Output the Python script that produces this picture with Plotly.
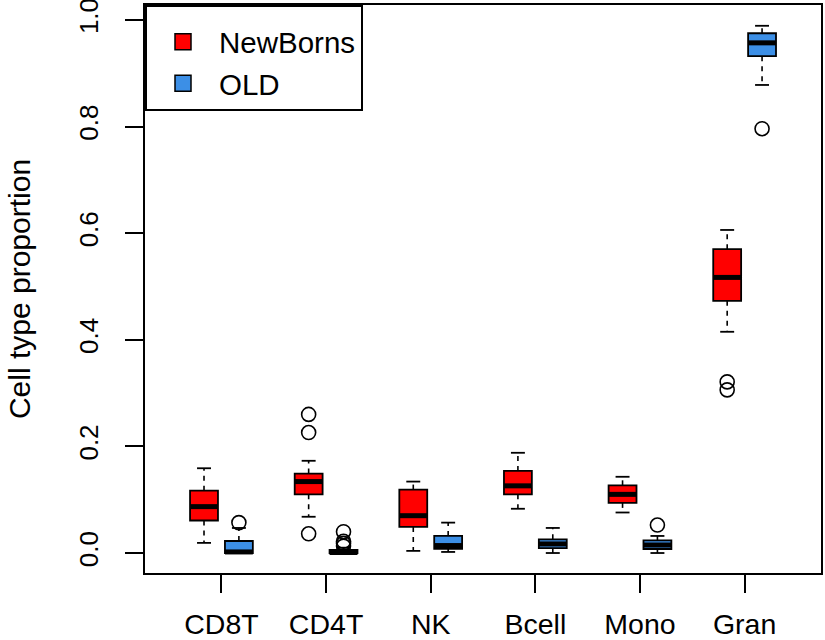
import plotly.graph_objects as go

categories = ["CD8T", "CD4T", "NK", "Bcell", "Mono", "Gran"]
group_names = ["NewBorns", "OLD"]

newborn_lower = [0.019, 0.068, 0.004, 0.083, 0.076, 0.415]
newborn_q1 = [0.061, 0.110, 0.049, 0.110, 0.094, 0.473]
newborn_median = [0.087, 0.134, 0.070, 0.126, 0.110, 0.517]
newborn_q3 = [0.117, 0.149, 0.119, 0.154, 0.127, 0.570]
newborn_upper = [0.159, 0.173, 0.134, 0.188, 0.143, 0.606]
newborn_outliers = [[], [0.260, 0.226, 0.036], [], [], [], [0.321, 0.306]]

old_lower = [0.0, 0.0, 0.002, 0.0, 0.0, 0.878]
old_q1 = [0.0, 0.0, 0.008, 0.009, 0.0075, 0.932]
old_median = [0.002, 0.001, 0.014, 0.017, 0.015, 0.957]
old_q3 = [0.0225, 0.006, 0.032, 0.0257, 0.0238, 0.975]
old_upper = [0.047, 0.010, 0.057, 0.047, 0.032, 0.989]
old_outliers = [[0.057], [0.040, 0.022, 0.018, 0.013], [], [], [0.0525], [0.796]]

y_ticks = [0.0, 0.2, 0.4, 0.6, 0.8, 1.0]

RED = "#FF0000"
BLUE = "#3C8FE6"
FONT = "Liberation Sans, Arial, Helvetica, sans-serif"
BOXW = 0.8

groups = [
    dict(name=group_names[0], color=RED, offset=-0.5, lower=newborn_lower, q1=newborn_q1,
         med=newborn_median, q3=newborn_q3, upper=newborn_upper, out=newborn_outliers),
    dict(name=group_names[1], color=BLUE, offset=0.5, lower=old_lower, q1=old_q1,
         med=old_median, q3=old_q3, upper=old_upper, out=old_outliers),
]

tick_pos = [3 * i + 1.5 for i in range(len(categories))]

fig = go.Figure()

for g in groups:
    pos = [t + g["offset"] for t in tick_pos]
    fig.add_trace(go.Box(
        x=pos, q1=g["q1"], median=g["med"], q3=g["q3"],
        lowerfence=g["q1"], upperfence=g["q3"],
        width=BOXW, whiskerwidth=0, boxpoints=False,
        fillcolor=g["color"], line=dict(color="black", width=1.8),
        name=g["name"], legendgroup=g["name"], showlegend=False, hoverinfo="skip",
    ))

for g in groups:
    pos = [t + g["offset"] for t in tick_pos]
    wx, wy, cx, cy, mx, my, ox, oy = [], [], [], [], [], [], [], []
    for p, lo, a, m, b, hi, outs in zip(pos, g["lower"], g["q1"], g["med"], g["q3"], g["upper"], g["out"]):
        wx += [p, p, None, p, p, None]
        wy += [b, hi, None, a, lo, None]
        cx += [p - BOXW / 4, p + BOXW / 4, None, p - BOXW / 4, p + BOXW / 4, None]
        cy += [hi, hi, None, lo, lo, None]
        mx += [p - BOXW / 2, p + BOXW / 2, None]
        my += [m, m, None]
        for o in outs:
            ox.append(p)
            oy.append(o)
    kw = dict(mode="lines", showlegend=False, hoverinfo="skip", legendgroup=g["name"])
    fig.add_trace(go.Scatter(x=wx, y=wy, line=dict(color="black", width=1.6, dash="5px,5px"), **kw))
    fig.add_trace(go.Scatter(x=cx, y=cy, line=dict(color="black", width=1.8), **kw))
    fig.add_trace(go.Scatter(x=mx, y=my, line=dict(color="black", width=5), **kw))
    fig.add_trace(go.Scatter(x=ox, y=oy, mode="markers", showlegend=False, hoverinfo="skip",
                             legendgroup=g["name"],
                             marker=dict(symbol="circle-open", size=14, color="black",
                                         line=dict(color="black", width=1.6))))

# legend keys (filled squares, as in the original legend)
for g in groups:
    fig.add_trace(go.Scatter(x=[None], y=[None], mode="markers", name=g["name"],
                             legendgroup=g["name"], showlegend=True,
                             marker=dict(symbol="square", size=16, color=g["color"],
                                         line=dict(color="black", width=1.5))))

fig.update_layout(
    width=825, height=640,
    margin=dict(l=145, r=4, t=5, b=67),
    paper_bgcolor="white", plot_bgcolor="white",
    font=dict(family=FONT, size=28, color="black"),
    boxmode="overlay",
    legend=dict(x=0, y=1, xanchor="left", yanchor="top",
                bordercolor="black", borderwidth=2, bgcolor="white",
                font=dict(size=29.5), itemwidth=62, itemsizing="trace", tracegroupgap=0,
                title=dict(text=" ", font=dict(size=7))),
    xaxis=dict(range=[-0.692, 18.69], tickmode="array", tickvals=tick_pos, ticktext=categories,
               showgrid=False, zeroline=False, showline=True, linecolor="black", linewidth=2,
               mirror=True, ticks="outside", ticklen=18, tickwidth=1.5, tickcolor="black",
               tickfont=dict(size=28.5), ticklabelstandoff=7, automargin=False),
    yaxis=dict(range=[-0.0375, 1.028], tickmode="array", tickvals=y_ticks,
               ticktext=[f"{v:.1f}" for v in y_ticks], tickangle=-90,
               showgrid=False, zeroline=False, showline=True, linecolor="black", linewidth=2,
               mirror=True, ticks="outside", ticklen=18, tickwidth=1.5, tickcolor="black",
               tickfont=dict(size=26), ticklabelstandoff=17, automargin=False,
               ticklabeloverflow="allow",
               title=dict(text="Cell type proportion", standoff=34, font=dict(size=30))),
)

# the page's default 8px body margin would shift the 825x640 figure; remove it
fig.write_html("out.html", config={"displayModeBar": False},
               post_script="document.body.style.margin='0px';")
